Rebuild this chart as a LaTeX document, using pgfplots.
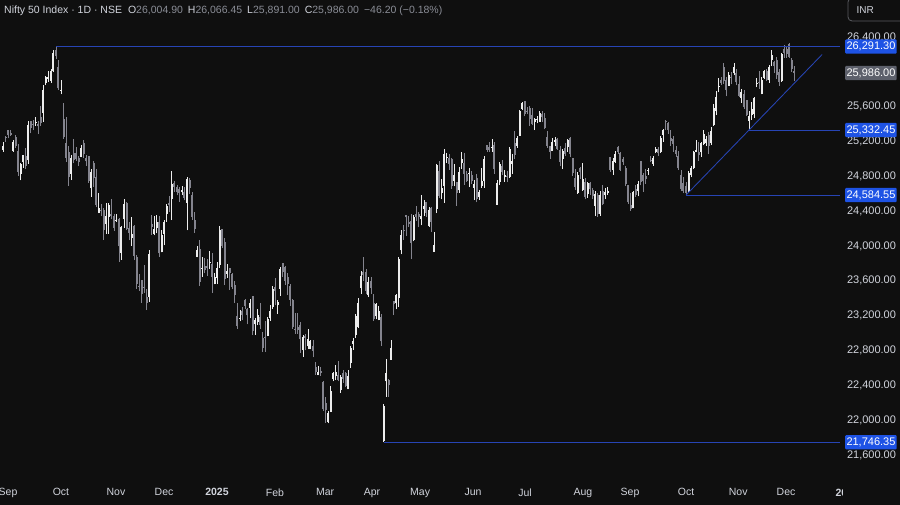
\documentclass[border=0pt]{standalone}
\usepackage{pgfplots}
\pgfplotsset{compat=1.18}
\usepackage{pgfplotstable}
\usepackage{fontspec}
\setmainfont{Liberation Sans}

\definecolor{bg}{HTML}{0F0F0F}
\definecolor{upc}{HTML}{EDEDED}
\definecolor{dnc}{HTML}{84848E}
\definecolor{lvl}{HTML}{2744B4}
\definecolor{lblue}{HTML}{1E53E5}
\definecolor{lgray}{HTML}{5D606B}
\definecolor{txt}{HTML}{D1D4DC}
\definecolor{dim}{HTML}{8A8D96}

% daily candles, x = trading day index (0 = 1 Oct 2024)
\pgfplotstableread{
x o h l c
-23 25100 25192 25085 25152
-22 25249 25268 25199 25236
-21 25333 25334 25235 25279
-20 25300 25334 25263 25280
-19 25089 25216 25083 25199
-18 25250 25276 25127 25145
-17 25094 25169 24801 24852
-16 24823 24958 24754 24936
-15 24962 25045 24896 25041
-14 25035 25130 24885 24918
-13 24986 25434 24942 25389
-12 25430 25433 25292 25357
-11 25406 25446 25332 25384
-10 25416 25482 25376 25419
-9 25402 25441 25285 25377
-8 25487 25611 25376 25416
-7 25525 25849 25426 25791
-6 25872 25956 25847 25939
-5 25921 26011 25886 25940
-4 25899 26032 25872 26005
-3 26005 26251 25998 26216
-2 26248 26291 26152 26179
-1 26061 26134 25794 25811
0 25789 25908 25740 25797
1 25453 25639 25230 25250
2 25182 25486 24967 25015
3 25085 25144 24694 24796
4 24832 25044 24756 25013
5 25066 25234 24948 24982
6 25072 25134 24980 24998
7 25008 25028 24920 24964
8 25024 25159 25018 25128
9 25187 25212 25008 25057
10 25008 25046 24922 24971
11 25028 25029 24728 24750
12 24665 24886 24567 24854
13 24956 24978 24680 24781
14 24798 24882 24446 24472
15 24378 24605 24378 24435
16 24412 24480 24341 24399
17 24418 24440 24074 24181
18 24252 24493 24136 24339
19 24329 24498 24140 24466
20 24371 24539 24307 24341
21 24349 24373 24172 24205
22 24302 24368 24280 24304
23 24315 24316 23817 23995
24 23917 24229 23843 24213
25 24308 24538 24204 24484
26 24489 24504 24179 24199
27 24207 24276 24066 24148
28 24087 24336 24004 24141
29 24225 24242 23839 23883
30 23877 23897 23509 23559
31 23542 23675 23485 23532
32 23605 23606 23350 23453
33 23529 23781 23464 23518
34 23411 23507 23263 23350
35 23412 23957 23360 23907
36 24254 24351 24125 24222
37 24141 24344 24126 24195
38 24205 24355 24146 24275
39 24274 24345 23873 23914
40 23928 24188 23927 24131
41 24141 24301 24008 24276
42 24367 24481 24280 24457
43 24489 24574 24393 24468
44 24539 24857 24296 24708
45 24729 24751 24620 24678
46 24673 24705 24580 24619
47 24652 24677 24511 24610
48 24620 24691 24583 24642
49 24624 24675 24524 24549
50 24498 24793 24180 24768
51 24753 24781 24601 24668
52 24584 24624 24303 24336
53 24297 24394 24149 24199
54 23877 24004 23870 23952
55 23960 24065 23538 23588
56 23738 23869 23647 23753
57 23770 23867 23685 23728
58 23775 23854 23653 23750
59 23801 23938 23739 23813
60 23796 23916 23460 23645
61 23560 23690 23562 23645
62 23637 23822 23562 23743
63 23783 24226 23751 24189
64 24196 24196 23976 24005
65 24045 24090 23552 23616
66 23679 23796 23637 23708
67 23746 23751 23496 23689
68 23674 23690 23503 23527
69 23551 23596 23345 23432
70 23196 23341 23047 23086
71 23165 23264 23135 23176
72 23250 23294 23146 23213
73 23377 23391 23272 23312
74 23278 23292 23100 23203
75 23290 23391 23170 23345
76 23421 23426 22977 23025
77 23099 23169 22981 23155
78 23129 23271 23090 23205
79 23183 23348 23050 23092
80 22940 23007 22787 22829
81 22960 23137 22786 22957
82 22961 23183 22976 23163
83 23169 23323 23140 23250
84 23296 23546 23277 23508
85 23528 23632 23318 23482
86 23319 23381 23222 23361
87 23509 23762 23424 23739
88 23801 23807 23645 23696
89 23761 23773 23556 23603
90 23649 23694 23443 23560
91 23543 23569 23316 23381
92 23384 23390 23046 23072
93 23049 23236 22993 23046
94 23075 23235 22992 23031
95 23097 23133 22775 22929
96 22810 22974 22726 22960
97 22963 22992 22801 22945
98 22847 23050 22815 22933
99 22821 22923 22812 22913
100 22857 22922 22720 22796
101 22610 22668 22518 22553
102 22516 22625 22513 22548
103 22568 22613 22508 22545
104 22433 22450 22105 22125
105 22194 22261 21965 22119
106 21975 22106 21964 22083
107 22099 22395 22092 22337
108 22476 22557 22446 22545
109 22508 22633 22464 22553
110 22521 22677 22446 22461
111 22345 22522 22315 22498
112 22536 22578 22430 22470
113 22541 22558 22377 22397
114 22354 22577 22354 22509
115 22662 22857 22599 22834
116 22874 22941 22808 22908
117 22973 23216 22941 23191
118 23069 23403 23063 23350
119 23515 23709 23452 23658
120 23701 23869 23601 23669
121 23701 23737 23452 23487
122 23433 23647 23412 23592
123 23601 23649 23450 23519
124 23342 23450 23136 23165
125 23192 23350 23158 23332
126 23150 23306 23145 23250
127 23190 23215 22857 22904
128 21758 22190 21746 22162
129 22446 22698 22271 22536
130 22460 22468 22270 22399
131 22695 22923 22695 22829
132 23368 23368 23207 23329
133 23345 23452 23273 23437
134 23401 23873 23298 23852
135 23949 24189 23903 24126
136 24185 24242 24072 24167
137 24357 24359 24119 24329
138 24277 24347 24216 24247
139 24290 24365 23848 24039
140 24070 24355 24054 24328
141 24371 24457 24290 24336
142 24370 24396 24216 24334
143 24311 24590 24238 24347
144 24420 24526 24343 24461
145 24500 24510 24331 24380
146 24233 24449 24220 24414
147 24432 24448 24160 24273
148 23936 24164 23936 24008
149 24421 24944 24378 24925
150 24864 24973 24547 24578
151 24613 24767 24535 24667
152 24694 25116 24494 25062
153 25019 25070 24954 25020
154 25006 25058 24875 24945
155 24996 25010 24653 24684
156 24744 24946 24685 24813
157 24733 24737 24462 24610
158 24639 24909 24614 24853
159 24956 25080 24889 25001
160 24956 25063 24705 24827
161 24832 24865 24737 24752
162 24825 24892 24677 24834
163 24812 24864 24717 24751
164 24670 24754 24527 24717
165 24786 24826 24502 24543
166 24560 24644 24530 24621
167 24691 24899 24671 24751
168 24748 25029 24671 25003
169 25161 25160 25077 25103
170 25134 25199 25081 25104
171 25134 25223 25082 25141
172 25164 25196 24825 24888
173 24474 24754 24474 24719
174 24733 24968 24703 24947
175 24919 24982 24813 24853
176 24789 24873 24738 24812
177 24803 24863 24733 24794
178 24787 25137 24784 25112
179 24939 25058 24825 24972
180 25179 25318 24999 25045
181 25150 25266 25126 25245
182 25268 25561 25267 25549
183 25576 25654 25558 25637
184 25661 25669 25489 25517
185 25551 25593 25511 25542
186 25589 25609 25378 25453
187 25505 25587 25384 25405
188 25428 25470 25331 25461
189 25451 25489 25407 25461
190 25428 25548 25424 25523
191 25514 25548 25424 25476
192 25474 25525 25340 25355
193 25256 25322 25129 25150
194 25149 25151 25001 25082
195 25089 25245 25089 25196
196 25196 25255 25145 25212
197 25231 25238 25101 25112
198 25108 25145 24918 24968
199 24999 25111 24882 25091
200 25125 25182 25035 25061
201 25139 25233 25085 25220
202 25243 25246 25018 25062
203 25011 25011 24807 24837
204 24782 24889 24646 24681
205 24609 24848 24599 24821
206 24891 24902 24771 24855
207 24643 24956 24635 24768
208 24735 24784 24535 24565
209 24596 24736 24554 24723
210 24720 24734 24590 24650
211 24641 24671 24539 24574
212 24464 24634 24344 24596
213 24586 24609 24338 24363
214 24371 24630 24347 24585
215 24627 24703 24466 24487
216 24586 24664 24539 24619
217 24607 24674 24585 24631
218 25019 25022 24853 24877
219 24876 25013 24821 24981
220 24965 25089 24954 25051
221 25142 25154 25054 25084
222 25065 25078 24859 24870
223 25002 25021 24935 24968
224 24900 24919 24689 24712
225 24695 24702 24481 24501
226 24467 24611 24404 24427
227 24432 24636 24432 24625
228 24653 24703 24568 24580
229 24628 24747 24570 24716
230 24981 24981 24695 24734
231 24819 24833 24621 24741
232 24802 24886 24715 24773
233 24864 24891 24815 24869
234 24991 25036 24964 24973
235 24945 25038 24919 25006
236 25075 25139 25063 25114
237 25118 25134 25031 25069
238 25074 25260 25066 25239
239 25276 25346 25198 25330
240 25441 25448 25329 25424
241 25410 25429 25286 25327
242 25239 25331 25152 25203
243 25229 25262 25084 25170
244 25108 25152 25024 25057
245 25035 25093 24878 24891
246 24818 24868 24630 24655
247 24728 24792 24606 24635
248 24691 24730 24585 24611
249 24620 24867 24606 24837
250 24819 24914 24787 24894
251 24894 25096 24881 25077
252 25085 25220 25076 25108
253 25079 25191 24978 25046
254 25075 25199 25024 25182
255 25167 25331 25156 25285
256 25178 25267 25152 25227
257 25277 25310 25060 25146
258 25182 25365 25159 25324
259 25394 25625 25377 25586
260 25546 25781 25508 25710
261 25824 25926 25764 25843
262 25901 25935 25847 25869
263 26057 26104 25863 25891
264 25902 25944 25718 25795
265 25843 25999 25843 25966
266 25939 26003 25856 25936
267 25982 26097 25960 26054
268 25985 26032 25845 25878
269 25863 25953 25711 25722
270 25696 25804 25645 25763
271 25745 25788 25578 25598
272 25674 25679 25492 25510
273 25433 25551 25332 25492
274 25503 25653 25449 25574
275 25517 25715 25475 25695
276 25864 25934 25821 25876
277 25883 26010 25808 25879
278 25743 25937 25740 25910
279 25930 26024 25923 26013
280 26011 26034 25893 25910
281 25903 26074 25874 26052
282 26133 26246 26064 26192
283 26108 26125 25986 26068
284 26132 26172 25912 25960
285 25998 26027 25843 25885
286 25900 26215 25887 26205
287 26261 26310 26159 26216
288 26257 26280 26160 26203
289 26325 26326 26156 26176
290 26141 26159 25998 26032
291 26005 26066 25891 25986
}\candles

\begin{document}
\begin{tikzpicture}[x=1pt,y=1pt]
\fill[bg] (0,0) rectangle (900,505);
\begin{axis}[
    at={(0pt,27pt)}, anchor=south west,
    scale only axis, width=840pt, height=478pt,
    xmin=-24.2, xmax=309.1, ymin=21336, ymax=26825,
    clip=false,
    axis line style={draw=none},
    major tick length=0pt,
    scaled y ticks=false,
    ytick={21600,22000,22400,22800,23200,23600,24000,24400,24800,25200,25600,26400},
    yticklabel pos=right,
    yticklabel style={anchor=west, xshift=3.5pt, text=txt,
        font=\fontsize{11}{13}\selectfont,
        /pgf/number format/.cd, fixed, fixed zerofill, precision=2,
        1000 sep={,}, assume math mode=true},
    xtick={-21,0,21.8,40.9,61.9,84.9,104.8,123.4,142.5,163.5,184.1,207.1,225.8,248,268.7,287.7},
    xticklabels={Sep,Oct,Nov,Dec,\textbf{2025},Feb,Mar,Apr,May,Jun,Jul,Aug,Sep,Oct,Nov,Dec},
    xticklabel style={text=txt, yshift=-7pt, font=\fontsize{10.5}{12}\selectfont},
    candle/.style={draw=none, no markers,
        error bars/y dir=plus, error bars/y explicit, error bars/error mark=none},
    up/.style 2 args={candle,
        restrict expr to domain={\thisrow{c}-\thisrow{o}}{0:100000},
        error bars/error bar style={draw=#1, line width=#2, line cap=butt}},
    down/.style 2 args={candle,
        restrict expr to domain={\thisrow{c}-\thisrow{o}}{-100000:-0.5},
        error bars/error bar style={draw=#1, line width=#2, line cap=butt}},
]
% wicks
\addplot[down={dnc}{0.8pt}]
    table[x=x, y=l, y error expr=\thisrow{h}-\thisrow{l}] {\candles};
\addplot[up={upc}{0.8pt}]
    table[x=x, y=l, y error expr=\thisrow{h}-\thisrow{l}] {\candles};
% bodies
\addplot[down={dnc}{2pt}]
    table[x=x, y=c, y error expr=\thisrow{o}-\thisrow{c}] {\candles};
\addplot[up={upc}{2pt}]
    table[x=x, y=o, y error expr=\thisrow{c}-\thisrow{o}] {\candles};

% levels and trend line
\addplot[lvl, line width=0.85pt] coordinates {(-2,26291.3) (309.1,26291.3)};
\addplot[lvl, line width=0.85pt] coordinates {(273,25332.45) (309.1,25332.45)};
\addplot[lvl, line width=0.85pt] coordinates {(248,24584.55) (309.1,24584.55)};
\addplot[lvl, line width=0.85pt] coordinates {(128,21746.35) (309.1,21746.35)};
\addplot[lvl, line width=0.85pt] coordinates {(248,24584.55) (302,26199.15)};

\tikzset{plabel/.style={anchor=west, xshift=5pt, fill=lblue, text=white,
    inner xsep=1.3pt, inner ysep=2.6pt, rounded corners=1pt,
    font=\fontsize{11}{13}\selectfont}}
\node[plabel] at (axis cs:309.1,26291.3) {26,291.30};
\node[plabel] at (axis cs:309.1,25332.45) {25,332.45};
\node[plabel] at (axis cs:309.1,24584.55) {24,584.55};
\node[plabel] at (axis cs:309.1,21746.35) {21,746.35};
\node[plabel, fill=lgray] at (axis cs:309.1,25986) {25,986.00};
\end{axis}

% cut-off year label under the price scale
\node[anchor=west, text=txt, font=\fontsize{10.5}{12}\selectfont\bfseries] at (832,12) {2026};
\fill[bg] (843,0) rectangle (900,26);

% header
\node[anchor=west, font=\fontsize{10.5}{12}\selectfont, inner sep=0pt] at (4,494)
  {\textcolor{txt}{Nifty 50 Index · 1D · NSE}\hspace{6pt}%
   \textcolor{txt}{O}\textcolor{dim}{26,004.90}\hspace{5pt}%
   \textcolor{txt}{H}\textcolor{dim}{26,066.45}\hspace{5pt}%
   \textcolor{txt}{L}\textcolor{dim}{25,891.00}\hspace{5pt}%
   \textcolor{txt}{C}\textcolor{dim}{25,986.00}\hspace{5pt}%
   \textcolor{dim}{−46.20 (−0.18\%)}};
\draw[draw=dim!60!bg, rounded corners=4pt, line width=0.8pt] (848,484) rectangle (906,507);
\node[anchor=west, text=txt, font=\fontsize{10}{12}\selectfont] at (853,495) {INR};

\pgfresetboundingbox
\path[use as bounding box] (0,0) rectangle (900,505);
\end{tikzpicture}
\end{document}
